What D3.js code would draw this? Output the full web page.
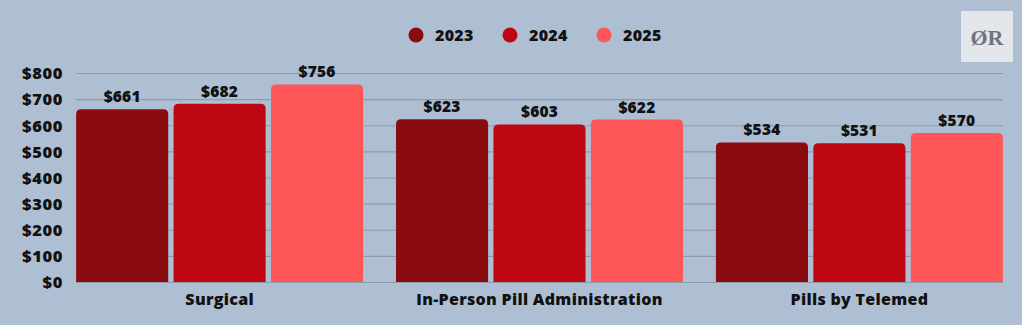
<!DOCTYPE html>
<html>
<head>
<meta charset="utf-8">
<script src="https://cdn.jsdelivr.net/npm/d3@7"></script>
<style>
  html, body { margin: 0; padding: 0; background: #ffffff; }
  svg { display: block; }
  text { font-family: "Open Sans", "DejaVu Sans", sans-serif; font-weight: 800; fill: #111; }
</style>
</head>
<body>
<svg id="chart" width="1024" height="327"></svg>
<script>
const categories = ["Surgical", "In-Person Pill Administration", "Pills by Telemed"];
const years = ["2023", "2024", "2025"];
const values2023 = [661, 623, 534];
const values2024 = [682, 603, 531];
const values2025 = [756, 622, 570];
const yTicks = [0, 100, 200, 300, 400, 500, 600, 700, 800];
const colors = ["#8b0c0e", "#be0712", "#ff5757"];

const seriesValues = [values2023, values2024, values2025];
const rows = categories.map((c, i) => ({
  category: c,
  values: years.map((y, j) => ({ year: y, value: seriesValues[j][i] }))
}));

const svg = d3.select("#chart");

svg.append("rect").attr("x", 0).attr("y", 0).attr("width", 1022).attr("height", 325).attr("fill", "#afbfd3");

const x0 = d3.scaleBand().domain(categories).range([59.5, 1019.5]).paddingInner(0.103).paddingOuter(0.052);
const x1 = d3.scaleBand().domain(years).range([0, x0.bandwidth()]).paddingInner(0.055);
const y = d3.scaleLinear().domain([0, 800]).range([282, 73]);

// gridlines
svg.append("g").selectAll("line").data(yTicks).join("line")
  .attr("x1", 76).attr("x2", 1003)
  .attr("y1", d => y(d) + 0.5).attr("y2", d => y(d) + 0.5)
  .attr("stroke", "#8d9bad").attr("stroke-width", 1.2);

// y-axis labels
const yAxis = d3.axisLeft(y).tickValues(yTicks).tickFormat(d => "$" + d).tickSize(0).tickPadding(0);
const gy = svg.append("g").attr("transform", "translate(63,0)").call(yAxis);
gy.select(".domain").remove();
gy.selectAll("text").attr("font-size", 16.5).attr("font-family", null)
  .style("fill", "#111").style("letter-spacing", "0.6px").attr("dy", "0.35em");

// bars with rounded tops
function topRounded(x, yTop, w, h, r) {
  r = Math.min(r, h, w / 2);
  return `M${x},${yTop + h}V${yTop + r}Q${x},${yTop} ${x + r},${yTop}H${x + w - r}Q${x + w},${yTop} ${x + w},${yTop + r}V${yTop + h}Z`;
}

const groups = svg.append("g").selectAll("g").data(rows).join("g")
  .attr("transform", d => `translate(${x0(d.category)},0)`);

groups.selectAll("path").data(d => d.values).join("path")
  .attr("d", d => topRounded(x1(d.year), y(d.value), x1.bandwidth(), y(0) - y(d.value), 5))
  .attr("fill", (d, i) => colors[i]);

groups.selectAll("text.val").data(d => d.values).join("text")
  .attr("class", "val")
  .attr("x", d => x1(d.year) + x1.bandwidth() / 2)
  .attr("y", d => y(d.value) - 7)
  .attr("text-anchor", "middle")
  .attr("font-size", 15.5)
  .style("letter-spacing", "0.2px")
  .text(d => "$" + d.value);

// category labels
const xAxis = d3.axisBottom(x0).tickSize(0).tickPadding(0);
const gx = svg.append("g").attr("transform", "translate(0,299)").call(xAxis);
gx.select(".domain").remove();
gx.selectAll("text").attr("font-size", 16).attr("font-family", null)
  .style("fill", "#111").style("letter-spacing", "0.3px").attr("dy", "0.35em");

// legend
const legendX = [416, 510, 604];
const lg = svg.append("g").selectAll("g").data(years).join("g")
  .attr("transform", (d, i) => `translate(${legendX[i]},35)`);
lg.append("circle").attr("r", 7.5).attr("fill", (d, i) => colors[i]);
lg.append("text").attr("x", 19).attr("dy", "0.35em").attr("font-size", 16).style("letter-spacing", "0.3px").text(d => d);

// logo mark
svg.append("rect").attr("x", 961).attr("y", 11).attr("width", 52).attr("height", 51).attr("fill", "#e3e7ec");
svg.append("text").attr("x", 987).attr("y", 37).attr("dy", "0.35em").attr("text-anchor", "middle")
  .attr("font-size", 22).style("fill", "#6f747b").style("font-family", "'Liberation Serif', serif").style("font-weight", 700).text("ØR");
</script>
</body>
</html>
